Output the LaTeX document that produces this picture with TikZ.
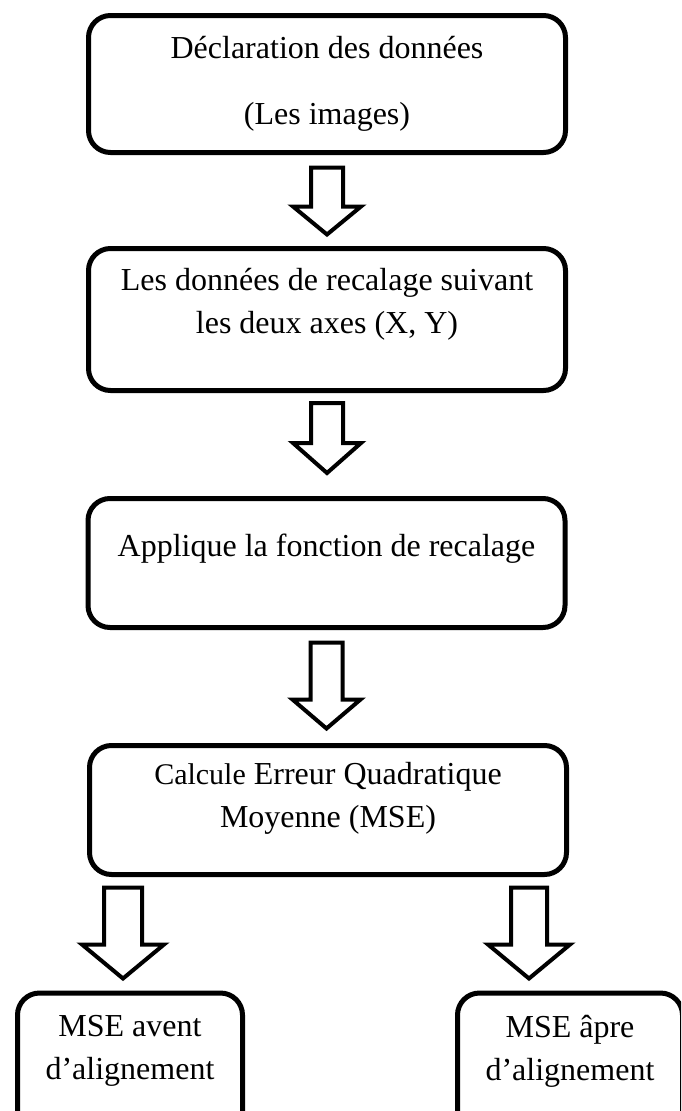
\documentclass[tikz,border=0pt]{standalone}
\usepackage{fontspec}
\setmainfont{Liberation Serif}
\usetikzlibrary{calc}

% block arrow: start, length, shaft length, shaft half width, head half width
\newcommand{\fleche}[5]{%
  \draw[fleche] (#1) ++(-#4,0) -- ++(0,#3) -- ++(#4-#5,0) -- ++(#5,#2-#3)
    -- ++(#5,#3-#2) -- ++(#4-#5,0) -- ++(0,-#3) -- cycle;}

\begin{document}
\begin{tikzpicture}[x=1pt,y=-1pt,
    boite/.style={draw,line width=5pt,rounded corners=22pt,align=center,
      minimum width=477pt,font=\fontsize{32}{43}\selectfont},
    petite/.style={boite,minimum width=225pt,minimum height=175pt,anchor=north},
    fleche/.style={draw,line width=4pt,fill=white,line join=miter}]
    \useasboundingbox (0,0) rectangle (681,1111);
    \clip (0,0) rectangle (681,1111);

    \node[boite,minimum height=137pt] (decl) at (327,84)
      {D\'eclaration des donn\'ees\\[23pt](Les images)};
    \node[boite,minimum height=142pt,text depth=38pt] (donnees) at (327,319.5)
      {Les donn\'ees de recalage suivant\\les deux axes (X, Y)};
    \node[boite,minimum height=129pt,text depth=36pt] (applique) at (326.5,563)
      {Applique la fonction de recalage};
    \node[boite,minimum height=129pt,text depth=30pt] (calcul) at (328,810)
      {{\fontsize{30}{43}\selectfont Calcule} Erreur Quadratique\\Moyenne (MSE)};
    \node[petite,text depth=66pt] (avant) at (130,990.5)
      {MSE avent\\d'alignement};
    \node[petite,text depth=66pt] (apres) at (570,990.5)
      {MSE \^apre\\d'alignement};

    \fleche{$(decl.south)+(0,12.5)$}{67}{39}{16}{34}
    \fleche{$(donnees.south)+(0,10)$}{70}{40}{16}{34}
    \fleche{$(applique.south)+(0,12.5)$}{86}{57}{16}{34}
    \fleche{$(calcul.south)+(-205,10.5)$}{91}{57}{19}{41}
    \fleche{$(calcul.south)+(201,10.5)$}{91}{57}{18}{41}
\end{tikzpicture}
\end{document}
